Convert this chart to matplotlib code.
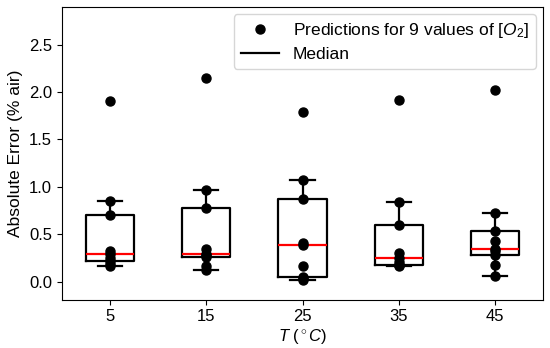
import matplotlib
matplotlib.use("Agg")
import matplotlib.pyplot as plt
from matplotlib.lines import Line2D

plt.rcParams["font.family"] = ["Liberation Sans", "DejaVu Sans"]
plt.rcParams["mathtext.fontset"] = "custom"
plt.rcParams["mathtext.rm"] = "Liberation Sans"
plt.rcParams["mathtext.it"] = "Liberation Sans:italic"

temps = [5, 15, 25, 35, 45]
err_5 = [0.16, 0.19, 0.215, 0.25, 0.29, 0.32, 0.70, 0.85, 1.90]
err_15 = [0.12, 0.16, 0.26, 0.28, 0.29, 0.34, 0.78, 0.97, 2.15]
err_25 = [0.02, 0.04, 0.05, 0.16, 0.39, 0.41, 0.87, 1.07, 1.79]
err_35 = [0.16, 0.17, 0.18, 0.21, 0.25, 0.30, 0.60, 0.84, 1.91]
err_45 = [0.06, 0.17, 0.28, 0.32, 0.345, 0.43, 0.53, 0.72, 2.02]
errors = [err_5, err_15, err_25, err_35, err_45]

fig = plt.figure(figsize=(5.5, 3.48), dpi=100)
ax = fig.add_axes([0.112, 0.139, 0.876, 0.842])

# whiskers reach 1.0 IQR so the top point in each group stays outside
ax.boxplot(errors, positions=temps, widths=5, whis=1.0, showfliers=False,
           boxprops=dict(color="black", linewidth=1.6),
           whiskerprops=dict(color="black", linewidth=1.6),
           capprops=dict(color="black", linewidth=1.6),
           medianprops=dict(color="red", linewidth=1.6))

for t, vals in zip(temps, errors):
    ax.plot([t] * len(vals), vals, "o", color="black", markersize=6.5, zorder=3)

ax.set_xlim(0, 50)
ax.set_ylim(-0.19, 2.9)
ax.set_xticks(temps)
ax.set_xticklabels([str(t) for t in temps])
ax.set_yticks([0.0, 0.5, 1.0, 1.5, 2.0, 2.5])
ax.tick_params(labelsize=12)
ax.set_xlabel(r"$T$ ($^\circ C$)", fontsize=12, labelpad=2)
ax.set_ylabel("Absolute Error (% air)", fontsize=12.5)

handles = [
    Line2D([], [], marker="o", color="black", linestyle="none", markersize=6.5),
    Line2D([], [], color="black", linewidth=1.6),
]
ax.legend(handles, [r"Predictions for 9 values of [$O_2$]", "Median"],
          loc="upper right", fontsize=12.5, handlelength=2.2,
          borderaxespad=0.45, labelspacing=0.35)

fig.savefig("out.png", dpi=100)
